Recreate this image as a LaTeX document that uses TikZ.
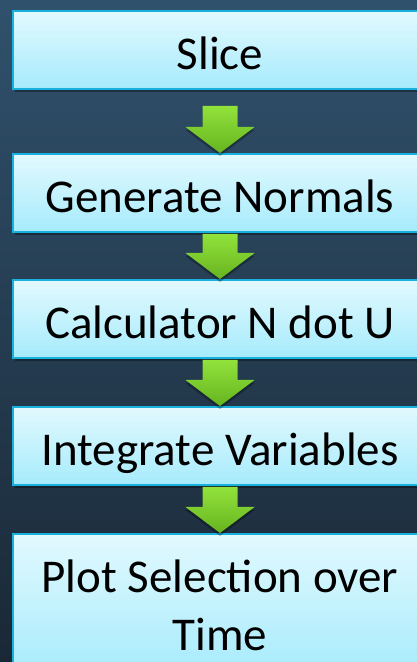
\documentclass[tikz,border=0pt]{standalone}
\usepackage{fontspec}
\setmainfont{Carlito}
\usetikzlibrary{calc,shadows}
\definecolor{bgtop}{HTML}{30516C}
\definecolor{bgbot}{HTML}{1A2836}
\definecolor{boxtop}{HTML}{E2F9FE}
\definecolor{boxbot}{HTML}{A6EBFC}
\definecolor{boxline}{HTML}{18B0DC}
\definecolor{arrtop}{HTML}{92E23C}
\definecolor{arrbot}{HTML}{66B41F}
\begin{document}
\begin{tikzpicture}[x=1pt,y=1pt]
\tikzset{
  box/.style={draw=boxline, line width=2pt, top color=boxtop, bottom color=boxbot,
    minimum width=414pt, minimum height=78pt, anchor=north west, inner sep=0pt,
    align=center, font=\fontsize{47}{58}\selectfont, text=black,
    drop shadow={fill=black, opacity=0.35, shadow xshift=2pt, shadow yshift=-3pt}},
  oneline/.style={text height=40pt, text depth=0pt},
  blockarrow/.style={top color=arrtop, bottom color=arrbot, draw=none,
    drop shadow={fill=black, opacity=0.3, shadow xshift=0pt, shadow yshift=-3pt}}
}
\path[use as bounding box, top color=bgtop, bottom color=bgbot] (0,0) rectangle (417,662);
\clip (0,0) rectangle (417,662);
\node[box, oneline] (b1) at (12,652) {Slice};
\node[box, oneline] (b2) at (12,509) {Generate Normals};
\node[box, oneline] (b3) at (12,383) {Calculator N dot U};
\node[box, oneline] (b4) at (12,256) {Integrate Variables};
\node[box, minimum height=142pt] (b5) at (12,129) {Plot Selection over\\Time};
% block arrows between boxes
\newcommand{\blockarr}[3]{%
  \path[blockarrow] ($(#1.south)+(-17.5,-#3)$) -- ($(#1.south)+(17.5,-#3)$)
    -- ($(#2.north)+(17.5,26)$) -- ($(#2.north)+(34.5,26)$) -- (#2.north)
    -- ($(#2.north)+(-34.5,26)$) -- ($(#2.north)+(-17.5,26)$) -- cycle;}
\blockarr{b1}{b2}{16}
\blockarr{b2}{b3}{1}
\blockarr{b3}{b4}{1}
\blockarr{b4}{b5}{1}
\end{tikzpicture}
\end{document}
